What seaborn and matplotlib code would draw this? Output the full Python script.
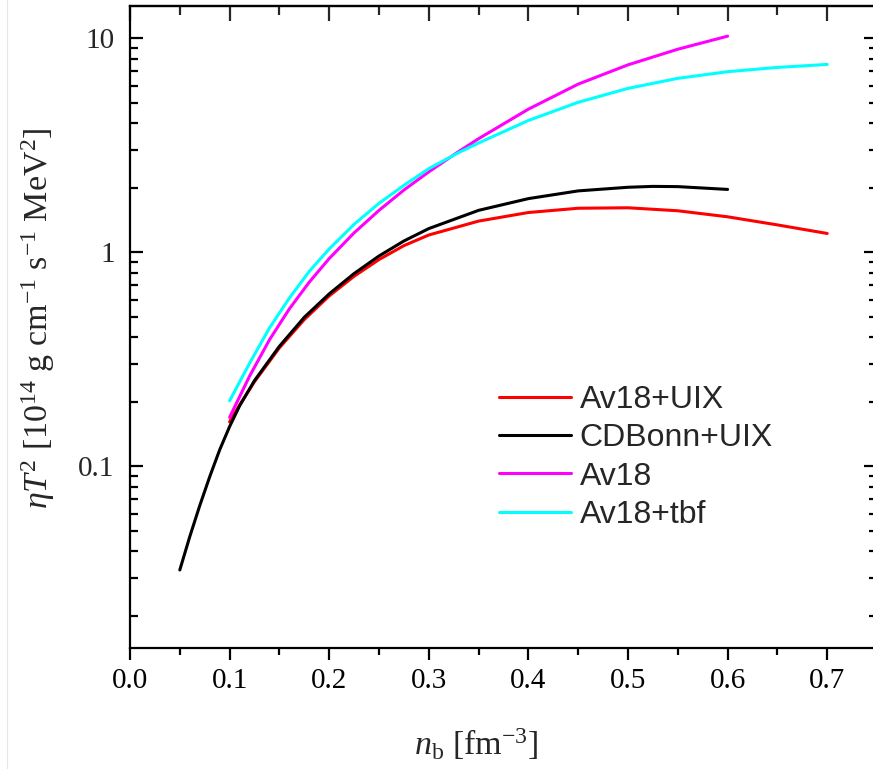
import matplotlib
matplotlib.use("Agg")
import matplotlib.pyplot as plt
from matplotlib.lines import Line2D
from matplotlib.ticker import LogLocator, MultipleLocator, FuncFormatter, NullFormatter
import pandas as pd
import seaborn as sns

# Shear viscosity eta*T^2 versus baryon density for four nuclear interactions
nb_av18_uix = [0.10, 0.11, 0.125, 0.15, 0.175, 0.20, 0.225, 0.25, 0.275, 0.30,
               0.35, 0.40, 0.45, 0.50, 0.55, 0.60, 0.65, 0.70]
eta_av18_uix = [0.161, 0.193, 0.248, 0.357, 0.484, 0.624, 0.771, 0.923, 1.072, 1.202,
                1.396, 1.531, 1.603, 1.611, 1.560, 1.462, 1.340, 1.222]

nb_cdbonn_uix = [0.05, 0.06, 0.07, 0.08, 0.09, 0.10, 0.11, 0.125, 0.15, 0.175, 0.20,
                 0.225, 0.25, 0.275, 0.30, 0.35, 0.40, 0.45, 0.50, 0.525, 0.55, 0.60]
eta_cdbonn_uix = [0.0327, 0.0468, 0.0653, 0.0891, 0.119, 0.153, 0.191, 0.251, 0.363, 0.496, 0.638,
                  0.794, 0.959, 1.127, 1.288, 1.567, 1.778, 1.932, 2.009, 2.028, 2.023, 1.963]

nb_av18 = [0.10, 0.12, 0.14, 0.16, 0.18, 0.20, 0.225, 0.25, 0.275, 0.30,
           0.33, 0.35, 0.40, 0.45, 0.50, 0.55, 0.60]
eta_av18 = [0.169, 0.263, 0.389, 0.543, 0.724, 0.933, 1.230, 1.567, 1.950, 2.371,
            2.951, 3.388, 4.656, 6.095, 7.499, 8.872, 10.21]

nb_av18_tbf = [0.10, 0.12, 0.14, 0.16, 0.18, 0.20, 0.225, 0.25, 0.275, 0.30,
               0.33, 0.35, 0.40, 0.45, 0.50, 0.55, 0.60, 0.65, 0.70]
eta_av18_tbf = [0.202, 0.302, 0.442, 0.610, 0.813, 1.035, 1.349, 1.690, 2.051, 2.455,
                2.917, 3.236, 4.121, 5.012, 5.821, 6.486, 6.966, 7.295, 7.534]

models = ["Av18+UIX", "CDBonn+UIX", "Av18", "Av18+tbf"]
colors = ["#ff0000", "#000000", "#ff00ff", "#00ffff"]

frames = []
for name, xs, ys in zip(models,
                        [nb_av18_uix, nb_cdbonn_uix, nb_av18, nb_av18_tbf],
                        [eta_av18_uix, eta_cdbonn_uix, eta_av18, eta_av18_tbf]):
    frames.append(pd.DataFrame({"nb": xs, "eta": ys, "model": name}))
df = pd.concat(frames, ignore_index=True)

sns.set_theme(style="ticks")
plt.rcParams["font.family"] = ["Liberation Serif", "DejaVu Serif"]
plt.rcParams["mathtext.fontset"] = "custom"
plt.rcParams["mathtext.rm"] = "Liberation Serif"
plt.rcParams["mathtext.it"] = "Liberation Serif:italic"
plt.rcParams["mathtext.bf"] = "Liberation Serif:bold"

W, H = 873, 769
fig = plt.figure(figsize=(W / 100, H / 100), dpi=100)
ax = fig.add_axes([130 / W, (H - 648) / H, 747 / W, 642 / H])

sns.lineplot(data=df, x="nb", y="eta", hue="model", hue_order=models,
             palette=dict(zip(models, colors)), sort=False, estimator=None,
             linewidth=2.2, legend=False, ax=ax)

ax.set_yscale("log")
ax.set_xlim(0.0, 0.75)
ax.set_ylim(10 ** -1.85, 10 ** 1.15)

ax.xaxis.set_major_locator(MultipleLocator(0.1))
ax.xaxis.set_minor_locator(MultipleLocator(0.05))
ax.xaxis.set_major_formatter(FuncFormatter(lambda v, p: f"{v:.1f}"))
ax.yaxis.set_major_locator(LogLocator(base=10, numticks=10))
ax.yaxis.set_minor_locator(LogLocator(base=10, subs=range(2, 10), numticks=20))
ax.yaxis.set_major_formatter(FuncFormatter(lambda v, p: f"{v:g}"))
ax.yaxis.set_minor_formatter(NullFormatter())

for s in ax.spines.values():
    s.set_linewidth(1.6)
    s.set_color("black")

ax.yaxis.set_tick_params(which="major", direction="in", left=True, right=True,
                         width=1.6, length=9.5, color="black", labelsize=21, pad=11)
ax.yaxis.set_tick_params(which="minor", direction="in", left=True, right=True,
                         width=1.6, length=5.5, color="black")
ax.xaxis.set_tick_params(which="both", direction="out", bottom=True, top=False,
                         width=1.6, color="black", labelcolor="black", labelsize=21, pad=6)
ax.xaxis.set_tick_params(which="major", length=8.5)
ax.xaxis.set_tick_params(which="minor", length=5)

# inward ticks along the top edge
top = ax.secondary_xaxis("top")
top.xaxis.set_major_locator(MultipleLocator(0.1))
top.xaxis.set_minor_locator(MultipleLocator(0.05))
top.xaxis.set_tick_params(which="both", direction="in", width=1.6, labeltop=False)
top.xaxis.set_tick_params(which="major", length=10.5)
top.xaxis.set_tick_params(which="minor", length=6.5)
top.spines["top"].set_linewidth(1.6)

ax.set_xlabel(r"$n_\mathrm{b}$ [fm$^{\mathrm{-3}}$]", fontsize=24.5)
ax.xaxis.set_label_coords((476 - 130) / 747, -(726 - 648) / 642)
ax.set_ylabel(r"$\eta T^2$ [10$^{\mathrm{14}}$ g cm$^{\mathrm{-1}}$ s$^{\mathrm{-1}}$ MeV$^{\mathrm{2}}$]",
              fontsize=24.5)
ax.yaxis.set_label_coords((57 - 130) / 747, (648 - 318) / 642)

handles = [Line2D([], [], color=c, linewidth=2.2) for c in colors]
ax.legend(handles, models, loc="upper left", bbox_to_anchor=(499 / W, 1 - 385 / H),
          bbox_transform=fig.transFigure, frameon=False,
          handlelength=2.25, handletextpad=0.28, labelspacing=0.26, borderpad=0,
          borderaxespad=0, prop={"family": "Liberation Sans", "size": 23})

# faint rule near the left edge of the page
fig.add_artist(Line2D([7 / W, 7 / W], [0, 1], transform=fig.transFigure,
                      color="#e6e6e6", linewidth=0.8))

fig.savefig("out.png", dpi=100)
